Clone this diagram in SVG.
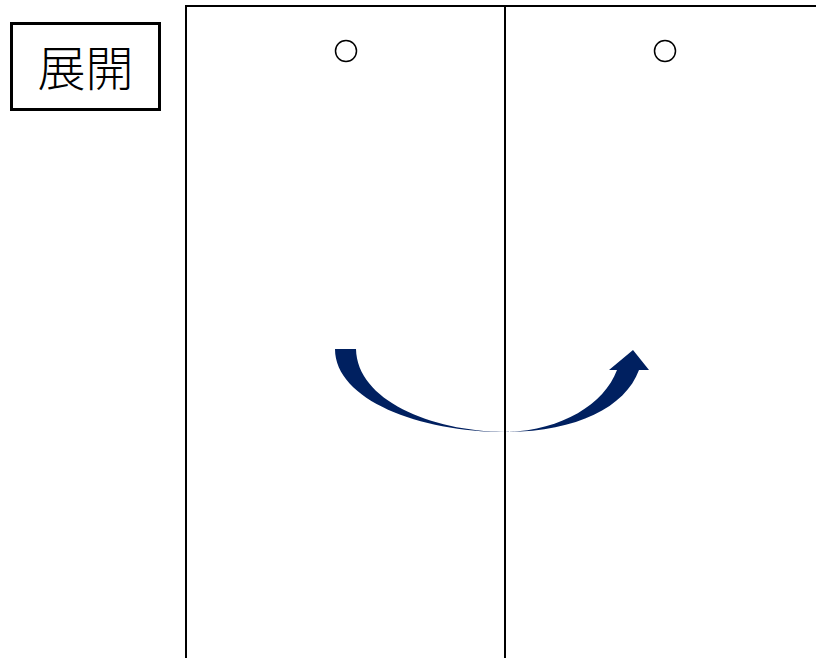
<svg xmlns="http://www.w3.org/2000/svg" width="816" height="658" viewBox="0 0 816 658">
<style>
.frame{fill:none;stroke:#000;stroke-width:2}
.hole{fill:#fff;stroke:#000;stroke-width:1.5}
.lbl{font-family:"Noto Sans CJK JP","Noto Sans CJK SC",sans-serif;font-size:48px;font-weight:300;fill:#000}
</style>
<rect width="816" height="658" fill="#fff"/>
<g id="panels">
<path class="frame" d="M186,658 L186,6 L818,6"/>
<line class="frame" x1="505" y1="6" x2="505" y2="658"/>
</g>
<g id="holes">
<circle class="hole" cx="346" cy="51" r="10.5"/>
<circle class="hole" cx="665" cy="51" r="10.5"/>
</g>
<g id="label">
<rect x="11.5" y="23.5" width="148" height="86" fill="#fff" stroke="#000" stroke-width="3"/>
<text class="lbl" x="85.5" y="86" text-anchor="middle">展開</text>
</g>
<g id="connectors">
<path fill="#002060" d="M335,349 L356,349 C357,400 430,431 505,432 C560,431 604,405 617,370 L609,370 L633,350 L649,370 L639,370 C625,408 575,432 505,432 C420,432 335,400 335,349 Z"/>
</g>
</svg>
